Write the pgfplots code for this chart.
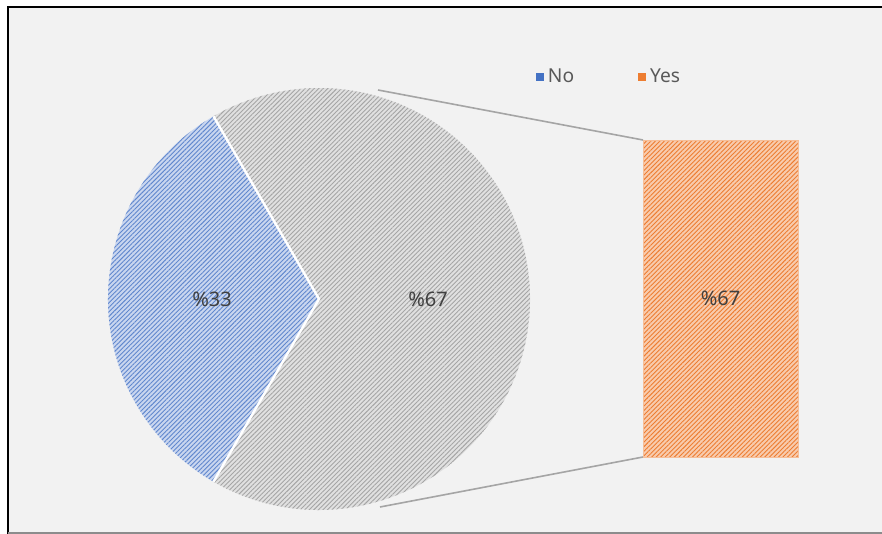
\documentclass[border=0pt]{standalone}
\usepackage{pgfplots}
\pgfplotsset{compat=1.18}
\usepackage{pgfplotstable}
\usetikzlibrary{patterns.meta}
\usepackage{fontspec}
\setmainfont{Noto Sans}

\definecolor{bg}{HTML}{F2F2F2}
\definecolor{pblue}{HTML}{4472C4}
\definecolor{pblueL}{HTML}{C9D6EF}
\definecolor{pgray}{HTML}{A5A5A5}
\definecolor{pgrayL}{HTML}{E0E0E0}
\definecolor{porange}{HTML}{ED7D31}
\definecolor{porangeL}{HTML}{F8CBAD}
\definecolor{legtext}{HTML}{595959}
\definecolor{labtext}{HTML}{404040}

\pgfplotstableread{
label value
No 33.33
Yes 66.67
}\datatable

\begin{document}
\begin{tikzpicture}
\useasboundingbox (0,0) rectangle (441pt,267pt);
\fill[bg] (3.75pt,0) rectangle (441pt,263.25pt);
\pgfplotstablegetelem{0}{value}\of\datatable \let\vNo\pgfplotsretval
\pgfplotstablegetelem{1}{value}\of\datatable \let\vYes\pgfplotsretval
\pgfmathsetmacro{\aS}{180-1.8*\vNo}
\pgfmathsetmacro{\aE}{180+1.8*\vNo}
\pgfmathsetmacro{\aYE}{\aE+3.6*\vYes}
\begin{axis}[
  at={(0,0)}, anchor=south west,
  width=441pt, height=267pt, scale only axis,
  xmin=0, xmax=882, ymin=0, ymax=534,
  hide axis, clip=false, disabledatascaling,
  legend columns=2,
  legend style={at={(axis cs:610,457)}, anchor=center, draw=none, fill=none,
    font=\fontsize{9.6}{12}\selectfont, text=legtext,
    /tikz/every even column/.append style={column sep=30pt}},
  legend image code/.code={\fill[#1] (0pt,-1.8pt) rectangle (3.6pt,1.8pt);},
]
\addlegendimage{pblue}
\addlegendentry{No}
\addlegendimage{porange}
\addlegendentry{Yes}
% pie slices from table values
\fill[pblueL] (axis cs:319,235) -- ++(\aS:211) arc[start angle=\aS, end angle=\aE, radius=211] -- cycle;
\fill[pattern={Lines[angle=45,distance=1.6pt,line width=0.45pt]}, pattern color=pblue!85]
  (axis cs:319,235) -- ++(\aS:211) arc[start angle=\aS, end angle=\aE, radius=211] -- cycle;
\fill[pgrayL] (axis cs:319,235) -- ++(\aE:211) arc[start angle=\aE, end angle=\aYE, radius=211] -- cycle;
\fill[pattern={Lines[angle=45,distance=1.6pt,line width=0.45pt]}, pattern color=pgray]
  (axis cs:319,235) -- ++(\aE:211) arc[start angle=\aE, end angle=\aYE, radius=211] -- cycle;
\draw[white, line width=1.2pt] (axis cs:319,235) ++(\aS:211) -- (axis cs:319,235) -- ++(\aE:211);
% connector lines
\draw[pgray, line width=0.8pt] (axis cs:378,444) -- (axis cs:643,394);
\draw[pgray, line width=0.8pt] (axis cs:380,27) -- (axis cs:643,77);
% labels
\node[text=labtext, font=\fontsize{10}{12}\selectfont] at (axis cs:212,235) {\%33};
\node[text=labtext, font=\fontsize{10}{12}\selectfont] at (axis cs:428,235) {\%67};
\end{axis}
\begin{axis}[
  at={(321.5pt,38.5pt)}, anchor=south west,
  width=77.5pt, height=158.5pt, scale only axis,
  xmin=-0.5, xmax=0.5, ymin=0, ymax=\vYes,
  hide axis, clip=false,
]
\addplot[ybar, bar width=77.5pt, fill=porangeL, draw=porange!50,
  postaction={pattern={Lines[angle=45,distance=1.6pt,line width=0.45pt]}, pattern color=porange}]
  coordinates {(0,66.67)};
\node[text=labtext, font=\fontsize{10}{12}\selectfont] at (axis cs:0,33.33) {\%67};
\end{axis}
\draw[black, line width=1pt] (3.75pt,0) -- (3.75pt,263.25pt) -- (441pt,263.25pt);
\draw[black!45, line width=0.75pt] (3.75pt,0.6pt) -- (441pt,0.6pt);
\end{tikzpicture}
\end{document}
